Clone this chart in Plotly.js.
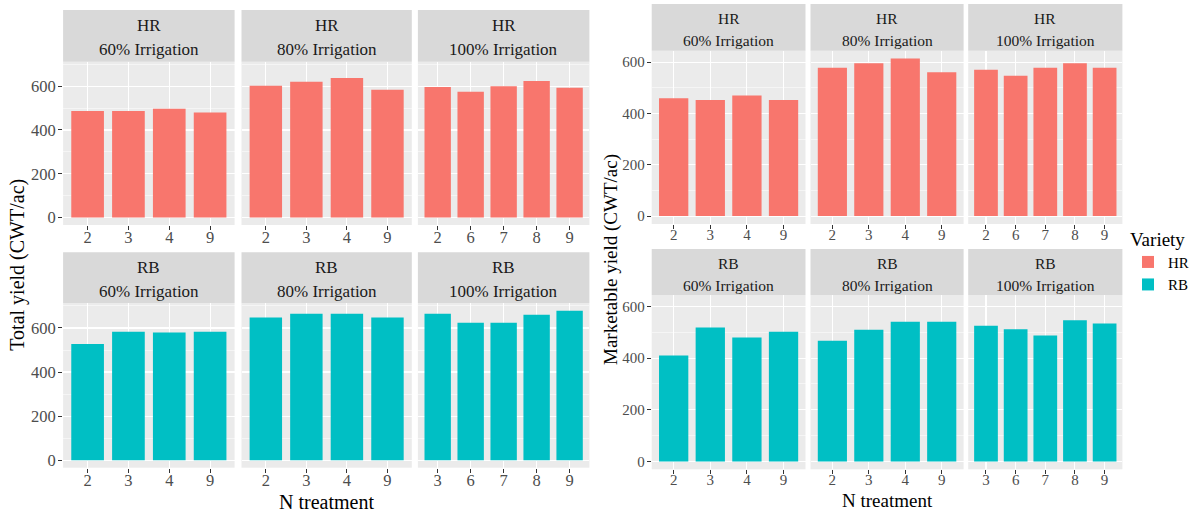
<!DOCTYPE html>
<html>
<head>
<meta charset="utf-8">
<script src="https://cdn.plot.ly/plotly-3.0.1.min.js"></script>
<style>html,body{margin:0;padding:0;background:#ffffff;}</style>
</head>
<body>
<div id="chart" style="width:1199px;height:512px;"></div>
<script>
// ---------------- DATA ----------------
const varieties = ["HR", "RB"];
const irrigationLevels = ["60% Irrigation", "80% Irrigation", "100% Irrigation"];

// N treatment categories per facet
const nTreat_HR_60  = ["2", "3", "4", "9"];
const nTreat_HR_80  = ["2", "3", "4", "9"];
const nTreat_HR_100 = ["2", "6", "7", "8", "9"];
const nTreat_RB_60  = ["2", "3", "4", "9"];
const nTreat_RB_80  = ["2", "3", "4", "9"];
const nTreat_RB_100 = ["3", "6", "7", "8", "9"];

// Total yield (CWT/ac)
const totalYield_HR_60  = [487, 487, 497, 480];
const totalYield_HR_80  = [602, 620, 638, 584];
const totalYield_HR_100 = [596, 575, 600, 624, 593];
const totalYield_RB_60  = [527, 583, 579, 583];
const totalYield_RB_80  = [647, 665, 665, 647];
const totalYield_RB_100 = [665, 624, 624, 660, 678];

// Marketable yield (CWT/ac)
const mktYield_HR_60  = [459, 453, 470, 453];
const mktYield_HR_80  = [578, 596, 614, 561];
const mktYield_HR_100 = [570, 547, 578, 596, 578];
const mktYield_RB_60  = [410, 519, 480, 502];
const mktYield_RB_80  = [467, 510, 541, 541];
const mktYield_RB_100 = [526, 512, 488, 547, 534];

const xTitle = "N treatment";
const yTitleTotal = "Total yield (CWT/ac)";
const yTitleMkt = "Marketable yield (CWT/ac)";
const legendTitle = "Variety";

// ---------------- STYLE / LAYOUT ----------------
const W = 1199, H = 512;
const FONT = "Liberation Serif";
const varietyColors = { HR: "#F8766D", RB: "#00BFC4" };

const nTreat = {
  HR: [nTreat_HR_60, nTreat_HR_80, nTreat_HR_100],
  RB: [nTreat_RB_60, nTreat_RB_80, nTreat_RB_100]
};
const totalYield = {
  HR: [totalYield_HR_60, totalYield_HR_80, totalYield_HR_100],
  RB: [totalYield_RB_60, totalYield_RB_80, totalYield_RB_100]
};
const mktYield = {
  HR: [mktYield_HR_60, mktYield_HR_80, mktYield_HR_100],
  RB: [mktYield_RB_60, mktYield_RB_80, mktYield_RB_100]
};

const geomLeft = {
  cols: [[63.1, 234.6], [241.5, 411.8], [417.9, 589.4]],
  rows: [{ strip: [10, 61.7], plot: [61.7, 225] }, { strip: [252.3, 303.3], plot: [303.3, 467.7] }],
  line1: 15, line2: 39.5,
  stripSize: 17, tickSize: 16.5, titleSize: 20,
  yTitleX: 18, xTitleY: 502
};
const geomRight = {
  cols: [[651.7, 805.5], [810.5, 963.6], [968.2, 1122.4]],
  rows: [{ strip: [4, 50.7], plot: [50.7, 224] }, { strip: [249, 295], plot: [295, 469.3] }],
  line1: 14.3, line2: 36.7,
  stripSize: 15.5, tickSize: 15, titleSize: 19,
  yTitleX: 611, xTitleY: 500
};

const traces = [];
const shapes = [];
const annotations = [];
const layout = {
  width: W, height: H,
  margin: { l: 0, r: 0, t: 0, b: 0, pad: 0 },
  paper_bgcolor: "#ffffff",
  plot_bgcolor: "#EBEBEB",
  bargap: 0.2,
  font: { family: FONT, color: "#4D4D4D" },
  showlegend: true,
  legend: {
    x: 1128 / W, y: 1 - 221 / H, xanchor: "left", yanchor: "top",
    title: { text: legendTitle, font: { size: 19, color: "#000000", family: FONT } },
    font: { size: 15, color: "#000000", family: FONT },
    bgcolor: "rgba(0,0,0,0)", tracegroupgap: 0, itemwidth: 30
  }
};
const legendShown = {};
let axisIdx = 0;

function addChart(valueSet, geom, yTitleText) {
  let all = [];
  varieties.forEach(v => valueSet[v].forEach(arr => { all = all.concat(arr); }));
  const ymax = Math.max.apply(null, all);
  const yRange = [-0.05 * ymax, 1.05 * ymax];

  varieties.forEach((v, row) => {
    irrigationLevels.forEach((irr, col) => {
      axisIdx++;
      const suf = axisIdx === 1 ? "" : String(axisIdx);
      const xs = geom.cols[col];
      const rs = geom.rows[row];
      const cats = nTreat[v][col];
      const vals = valueSet[v][col];
      traces.push({
        type: "bar", x: cats, y: vals,
        xaxis: "x" + suf, yaxis: "y" + suf,
        name: v, legendgroup: v,
        showlegend: !legendShown[v],
        marker: { color: varietyColors[v], line: { width: 0 } }
      });
      legendShown[v] = true;
      layout["xaxis" + suf] = {
        domain: [xs[0] / W, xs[1] / W], anchor: "y" + suf,
        type: "category", range: [-0.6, cats.length - 0.4],
        showgrid: true, gridcolor: "#FFFFFF", gridwidth: 1.1,
        zeroline: false, showline: false, automargin: false, fixedrange: true,
        ticks: "outside", ticklen: 4, tickwidth: 1, tickcolor: "#333333",
        ticklabelstandoff: -7,
        tickfont: { size: geom.tickSize, color: "#4D4D4D", family: FONT }
      };
      layout["yaxis" + suf] = {
        domain: [1 - rs.plot[1] / H, 1 - rs.plot[0] / H], anchor: "x" + suf,
        range: yRange, tick0: 0, dtick: 200,
        showgrid: true, gridcolor: "#FFFFFF", gridwidth: 1.1,
        minor: { dtick: 100, tick0: 0, showgrid: true, gridcolor: "#FFFFFF", gridwidth: 0.5, ticks: "" },
        zeroline: false, showline: false, automargin: false, fixedrange: true,
        ticks: col === 0 ? "outside" : "", ticklen: 4, tickwidth: 1, tickcolor: "#333333",
        showticklabels: col === 0,
        ticklabelstandoff: -1,
        tickfont: { size: geom.tickSize, color: "#4D4D4D", family: FONT }
      };
      shapes.push({
        type: "rect", xref: "paper", yref: "paper", layer: "below",
        x0: xs[0] / W, x1: xs[1] / W,
        y0: 1 - rs.strip[1] / H, y1: 1 - rs.strip[0] / H,
        fillcolor: "#D9D9D9", line: { width: 0 }
      });
      const cx = (xs[0] + xs[1]) / 2 / W;
      annotations.push({
        xref: "paper", yref: "paper", x: cx, y: 1 - (rs.strip[0] + geom.line1) / H,
        xanchor: "center", yanchor: "middle", showarrow: false, text: v,
        font: { size: geom.stripSize, color: "#1A1A1A", family: FONT }
      });
      annotations.push({
        xref: "paper", yref: "paper", x: cx, y: 1 - (rs.strip[0] + geom.line2) / H,
        xanchor: "center", yanchor: "middle", showarrow: false, text: irr,
        font: { size: geom.stripSize, color: "#1A1A1A", family: FONT }
      });
    });
  });

  const top = geom.rows[0].plot[0], bottom = geom.rows[1].plot[1];
  annotations.push({
    xref: "paper", yref: "paper", x: geom.yTitleX / W, y: 1 - (top + bottom) / 2 / H,
    xanchor: "center", yanchor: "middle", showarrow: false, textangle: -90,
    text: yTitleText, font: { size: geom.titleSize, color: "#000000", family: FONT }
  });
  annotations.push({
    xref: "paper", yref: "paper", x: (geom.cols[0][0] + geom.cols[2][1]) / 2 / W,
    y: 1 - geom.xTitleY / H, xanchor: "center", yanchor: "middle", showarrow: false,
    text: xTitle, font: { size: geom.titleSize, color: "#000000", family: FONT }
  });
}

addChart(totalYield, geomLeft, yTitleTotal);
addChart(mktYield, geomRight, yTitleMkt);

layout.shapes = shapes;
layout.annotations = annotations;

Plotly.newPlot("chart", traces, layout, { displayModeBar: false, staticPlot: true });
</script>
</body>
</html>
